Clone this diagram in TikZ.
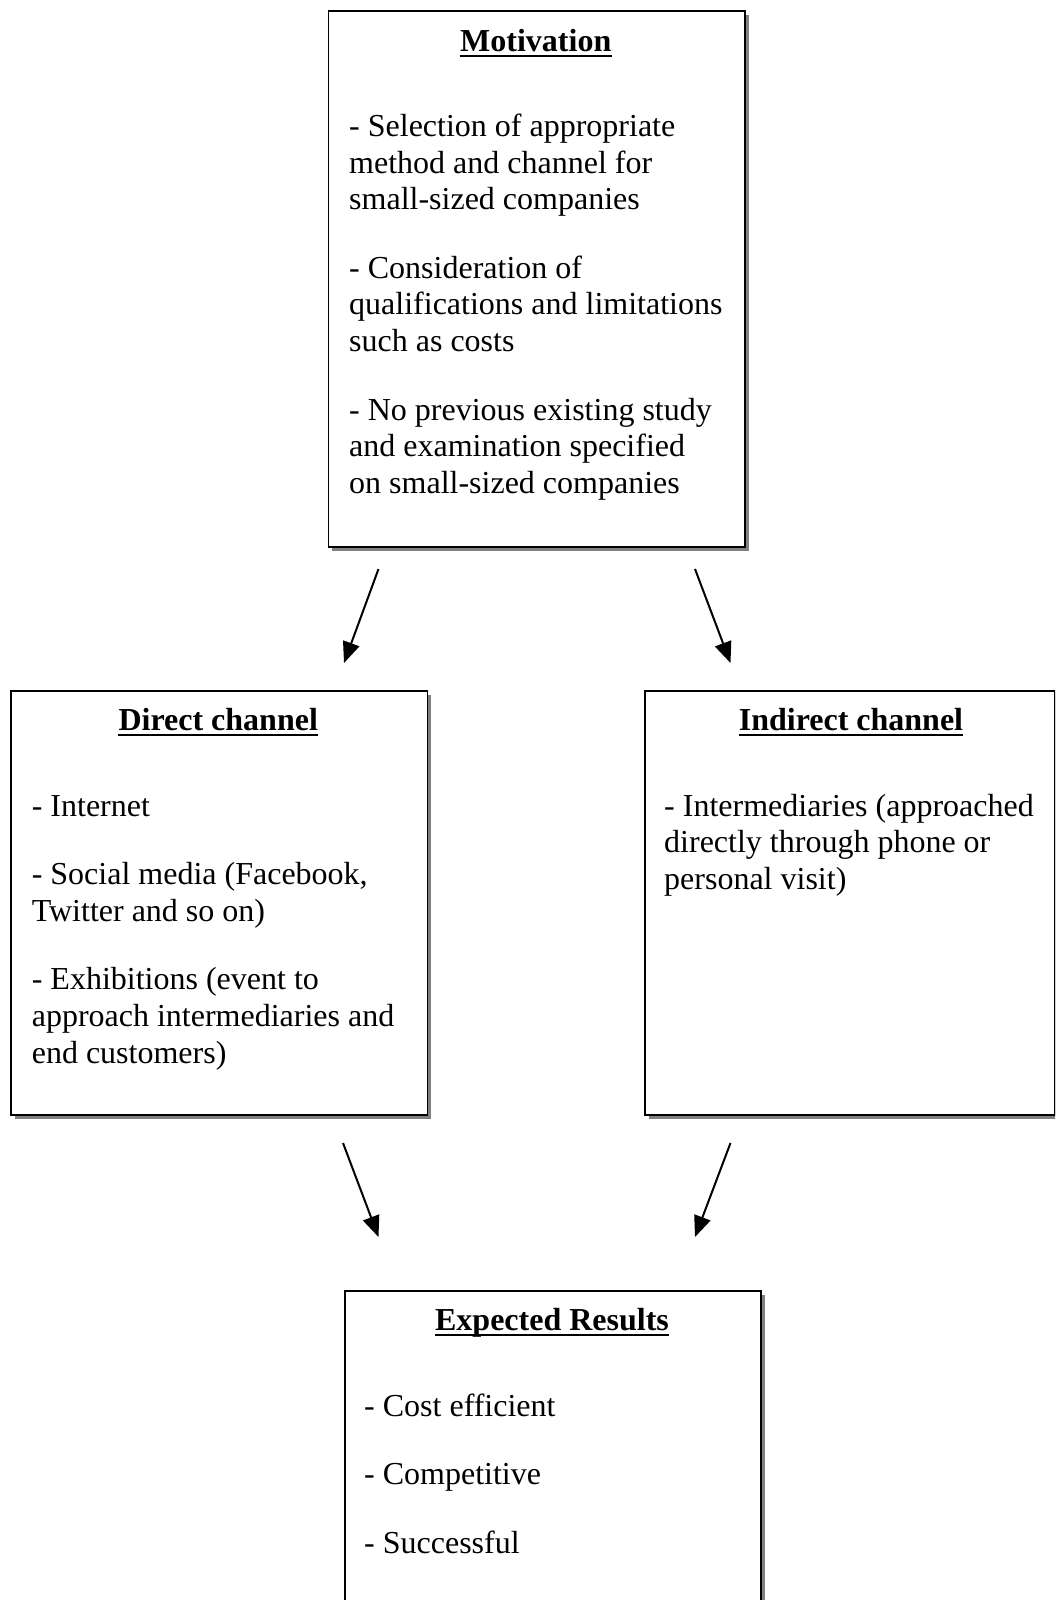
\documentclass[tikz,border=0pt]{standalone}
\usepackage{fontspec}
\setmainfont{Liberation Serif}
\usetikzlibrary{arrows.meta,shadows}
\tikzset{
  boxshape/.style={draw=black, line width=1.6pt, fill=white, inner sep=0pt, anchor=north west,
    drop shadow={shadow xshift=4pt, shadow yshift=-4pt, fill=black!50, opacity=1}},
  headtext/.style={anchor=base, inner sep=0pt, font=\fontsize{32}{36.6}\selectfont\bfseries},
  bodytext/.style={anchor=base west, inner sep=0pt, font=\fontsize{32}{36.6}\selectfont},
  flowarrow/.style={line width=2pt, -{Triangle[length=21pt,width=17pt]}},
  uline/.style={line width=2pt}
}
\begin{document}
\begin{tikzpicture}[x=1pt,y=-1pt]
\useasboundingbox (0,0) rectangle (1055,1600);
\clip (0,0) rectangle (1055,1600);
% boxes
\node[boxshape, minimum width=416.5pt, minimum height=536pt] (mot) at (327.5,10) {};
\node[boxshape, minimum width=416.5pt, minimum height=424pt] (dir) at (10,690) {};
\node[boxshape, minimum width=410pt, minimum height=424pt] (ind) at (644,690) {};
\node[boxshape, minimum width=416pt, minimum height=400pt] (res) at (344,1290) {};
% headings
\node[headtext] (mothead) at (535.75,51.5) {Motivation};
\node[headtext] (dirhead) at (218.25,730.5) {Direct channel};
\node[headtext] (indhead) at (851,730.5) {Indirect channel};
\node[headtext] (reshead) at (552,1330.5) {Expected Results};
\foreach \h in {mothead,dirhead,indhead,reshead}
  \draw[uline] ([yshift=-4.5pt]\h.base west) -- ([yshift=-4.5pt]\h.base east);
% bodies
\node[bodytext] (motbody) at (349,136.5) {\begin{tabular}[t]{@{}l@{}}
- Selection of appropriate\\ method and channel for\\ small-sized companies\\[32pt]
- Consideration of\\ qualifications and limitations\\ such as costs\\[32pt]
- No previous existing study\\ and examination specified\\ on small-sized companies
\end{tabular}};
\node[bodytext] (dirbody) at (31.6,816) {\begin{tabular}[t]{@{}l@{}}
- Internet\\[32pt]
- Social media (Facebook,\\ Twitter and so on)\\[32pt]
- Exhibitions (event to\\ approach intermediaries and\\ end customers)
\end{tabular}};
\node[bodytext] (indbody) at (664,816) {\begin{tabular}[t]{@{}l@{}}
- Intermediaries (approached\\ directly through phone or\\ personal visit)
\end{tabular}};
\node[bodytext] (resbody) at (364,1416) {\begin{tabular}[t]{@{}l@{}}
- Cost efficient\\[32pt]
- Competitive\\[32pt]
- Successful
\end{tabular}};
% arrows
\coordinate (a1s) at (378.5,569); \coordinate (a1e) at (344,663);
\coordinate (a2s) at (695,569);   \coordinate (a2e) at (730.5,663);
\coordinate (a3s) at (343,1143);  \coordinate (a3e) at (378.5,1237);
\coordinate (a4s) at (730.5,1143);\coordinate (a4e) at (695,1237);
\draw[flowarrow] (a1s) -- (a1e);
\draw[flowarrow] (a2s) -- (a2e);
\draw[flowarrow] (a3s) -- (a3e);
\draw[flowarrow] (a4s) -- (a4e);
\end{tikzpicture}
\end{document}
